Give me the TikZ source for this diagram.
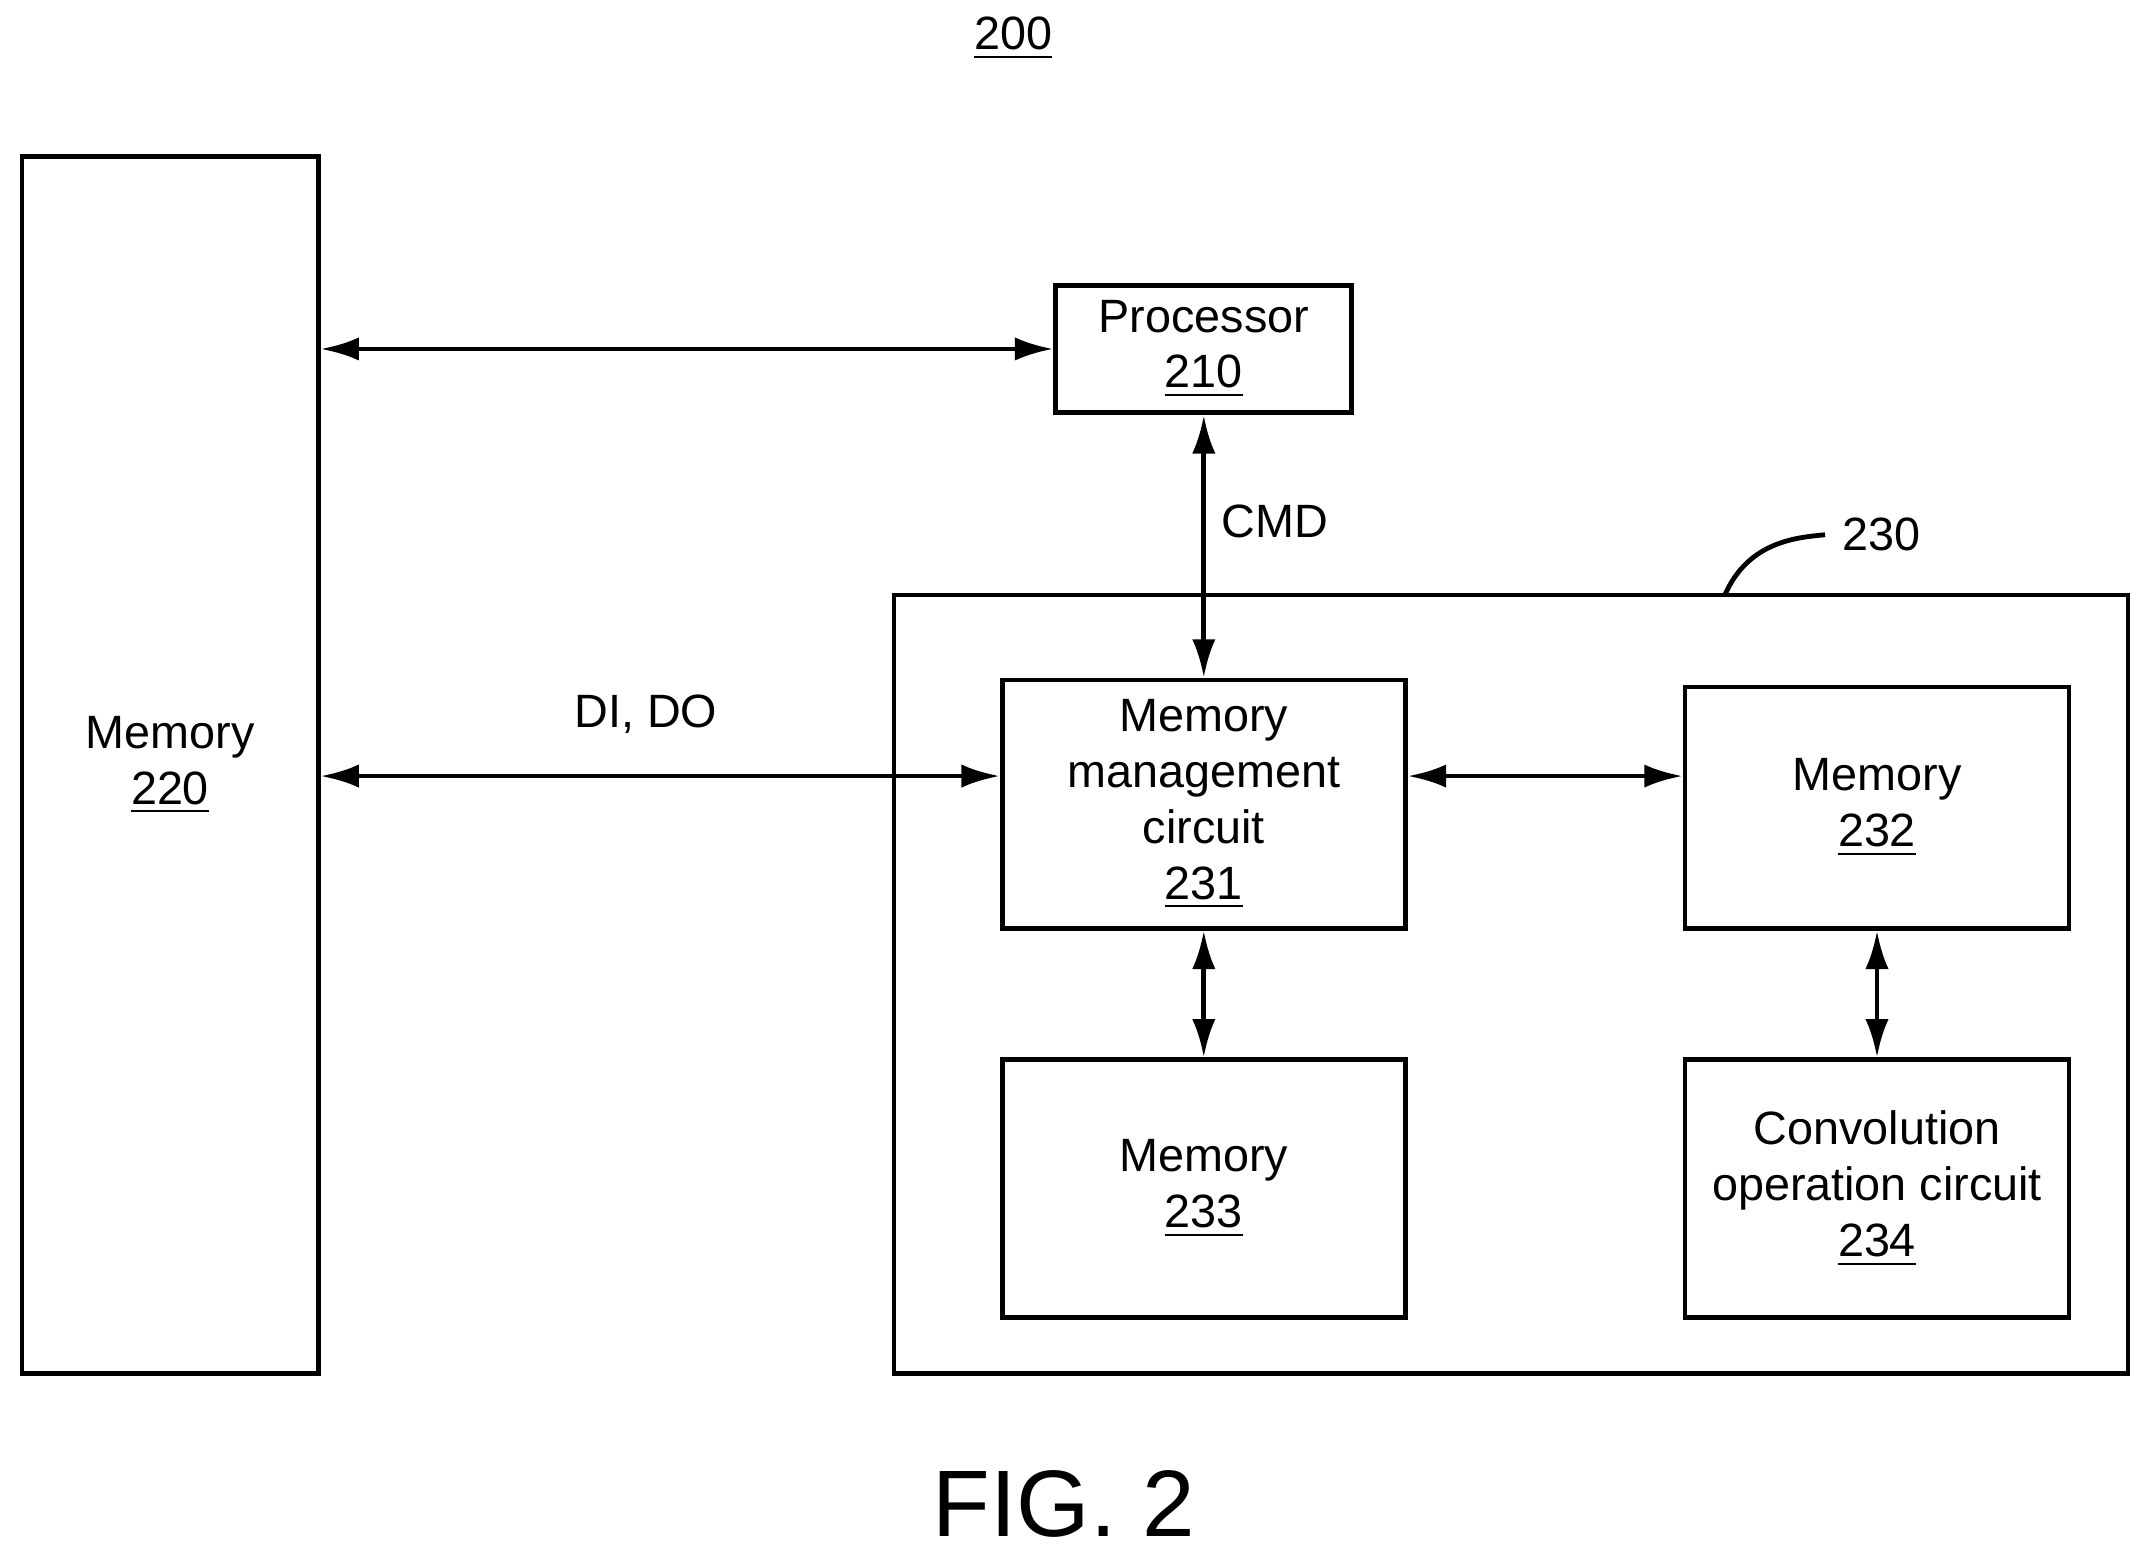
\documentclass[tikz,border=0pt]{standalone}
\usepackage{fontspec}
\setmainfont{Liberation Sans}
\usetikzlibrary{arrows.meta,positioning}
\tikzset{
  blk/.style={draw, line width=1pt, align=center, font=\fontsize{9.7}{11.6}\selectfont, inner sep=0pt},
  bi/.style={line width=1pt, {Latex[length=0.28cm,width=0.17cm]}-{Latex[length=0.28cm,width=0.17cm]}},
  lbl/.style={font=\fontsize{9.7}{11.6}\selectfont}
}
\begin{document}
\begin{tikzpicture}
            \useasboundingbox (0,0) rectangle (15.63,-11.33);
            \draw (7.39,-0.28) node[lbl]                                  (fig) {\underline{200}};
            \draw (1.24,-5.58) node[blk, minimum width=2.16cm, minimum height=8.88cm]  (m220) {Memory\\\underline{220}};
            \draw (8.78,-2.545) node[blk, minimum width=2.16cm, minimum height=0.93cm] (p210) {Processor\\\underline{210}};
            \draw (11.02,-7.18) node[blk, minimum width=9.00cm, minimum height=5.68cm] (c230) {};
            \draw (8.78,-5.865) node[blk, minimum width=2.94cm, minimum height=1.81cm] (m231) {Memory\\management\\circuit\\\underline{231}};
            \draw (13.69,-5.89) node[blk, minimum width=2.80cm, minimum height=1.76cm] (m232) {Memory\\\underline{232}};
            \draw (8.78,-8.67) node[blk, minimum width=2.94cm, minimum height=1.88cm]  (m233) {Memory\\\underline{233}};
            \draw (13.69,-8.67) node[blk, minimum width=2.80cm, minimum height=1.88cm] (c234) {Convolution\\operation circuit\\\underline{234}};
            \draw (13.72,-3.90) node[lbl]                                 (l230) {230};
            \draw (7.76,-10.97) node[font=\fontsize{19.6}{24}\selectfont] (cap) {FIG. 2};
            \coordinate (t230) at (12.58,-4.34);
            \draw[bi] (p210.west) -- (p210.west -| m220.east);
            \draw[bi] (p210.south) -- (m231.north);
            \draw (9.30,-3.80) node[lbl] (cmd) {CMD};
            \draw[bi] ([yshift=0.205cm]m231.west) -- ([yshift=0.205cm]m231.west -| m220.east);
            \draw (4.71,-5.21) node[lbl] (dido) {DI, DO};
            \draw[bi] ([yshift=0.205cm]m231.east) -- ([yshift=0.205cm]m231.east -| m232.west);
            \draw[bi] (m231.south) -- (m233.north);
            \draw[bi] (m232.south) -- (c234.north);
            \draw[line width=1pt] (t230) .. controls (12.75,-3.95) and (13.1,-3.92) .. (l230.west);
\end{tikzpicture}
\end{document}
